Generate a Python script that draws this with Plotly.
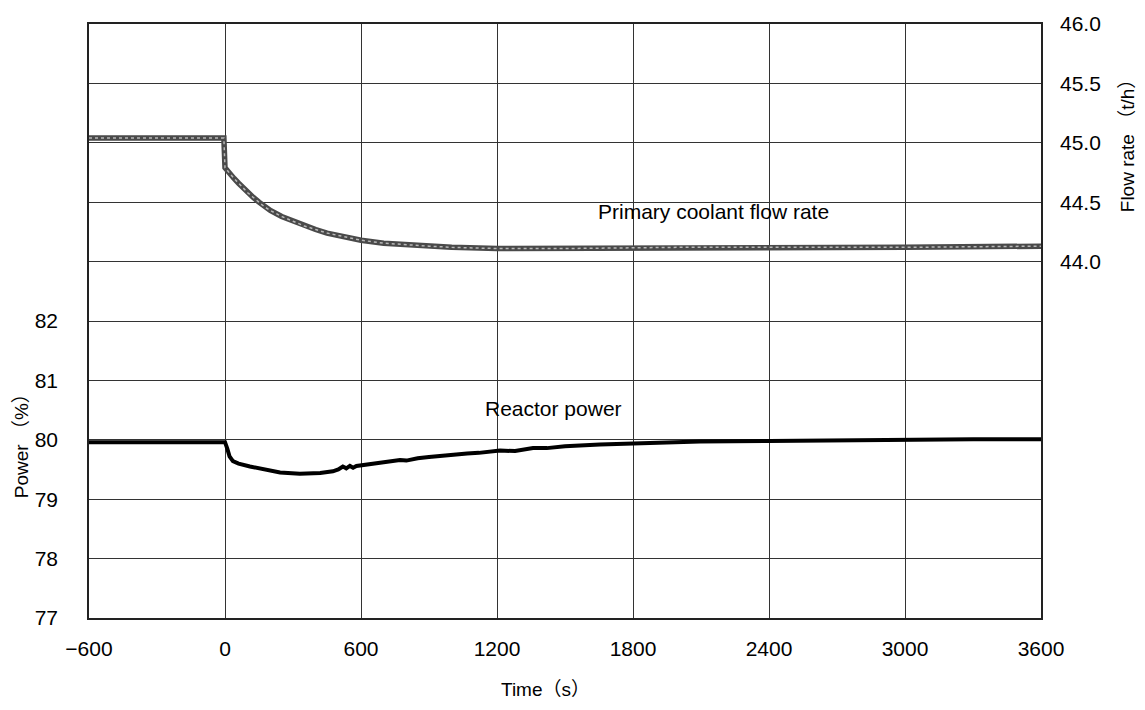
import plotly.graph_objects as go

# ---- data ----
flow_t = [-600, -5, 0, 20, 40, 60, 80, 100, 125, 150, 175, 200, 250, 300, 350,
          400, 450, 500, 550, 600, 700, 800, 900, 1000, 1200, 1500, 2000, 2500,
          3000, 3600]
flow_v = [45.04, 45.04, 44.79, 44.74, 44.70, 44.66, 44.62, 44.58, 44.54, 44.50,
          44.46, 44.43, 44.38, 44.34, 44.30, 44.27, 44.24, 44.22, 44.20, 44.18,
          44.155, 44.14, 44.13, 44.12, 44.11, 44.11, 44.12, 44.12, 44.12, 44.13]

power_t = [-600, -10, 0, 10, 20, 35, 60, 110, 170, 243, 330, 420, 476, 500, 520,
           535, 551, 565, 580, 600, 650, 700, 740, 772, 800, 850, 900, 950, 1000,
           1068, 1120, 1213, 1280, 1359, 1420, 1500, 1654, 1800, 2096, 2400, 2700,
           2978, 3300, 3600]
power_v = [79.96, 79.96, 79.96, 79.85, 79.72, 79.64, 79.60, 79.55, 79.50, 79.45,
           79.43, 79.44, 79.47, 79.50, 79.55, 79.52, 79.56, 79.53, 79.56, 79.57,
           79.59, 79.61, 79.63, 79.66, 79.65, 79.69, 79.71, 79.73, 79.74,
           79.77, 79.78, 79.82, 79.81, 79.86, 79.86, 79.89, 79.92, 79.94, 79.97,
           79.98, 79.99, 80.01, 80.01, 80.01]

x_ticks = [-600, 0, 600, 1200, 1800, 2400, 3000, 3600]
x_labels = ["−600", "0", "600", "1200", "1800", "2400", "3000", "3600"]
power_grid = [77, 78, 79, 80, 81, 82, 83, 84, 85, 86, 87]
power_labels = ["77", "78", "79", "80", "81", "82", "", "", "", "", ""]
flow_ticks = [44.0, 44.5, 45.0, 45.5, 46.0]
flow_labels = ["44.0", "44.5", "45.0", "45.5", "46.0"]

FONT = "Liberation Sans, Noto Sans CJK JP, Arial, sans-serif"

fig = go.Figure()

# primary coolant flow (hatched-looking thick grey line)
fig.add_trace(go.Scatter(x=flow_t, y=flow_v, yaxis="y2", mode="lines",
                         line=dict(color="#4a4a4a", width=5.5, shape="linear"),
                         showlegend=False, hoverinfo="skip"))
fig.add_trace(go.Scatter(x=flow_t, y=flow_v, yaxis="y2", mode="lines",
                         line=dict(color="#b8b8b8", width=1.5, dash="dot"),
                         showlegend=False, hoverinfo="skip"))

# reactor power
fig.add_trace(go.Scatter(x=power_t, y=power_v, mode="lines",
                         line=dict(color="#000000", width=4), showlegend=False))

pl, pr, pt, pb = 89, 1145 - 104, 20, 710 - 92


def px2paper(px, py):
    return (px - pl) / (pr - pl), (pb - py) / (pb - pt)


ann = []
ann.append(dict(text="Primary coolant flow rate", x=2156, y=44.42, xref="x", yref="y2",
                showarrow=False, font=dict(size=21)))
ann.append(dict(text="Reactor power", x=1449, y=80.53, xref="x", yref="y",
                showarrow=False, font=dict(size=21)))
for txt, px, py, ang in [("Power （%）", 21, 440, -90),
                         ("Flow rate （t/h）", 1127, 138, -90),
                         ("Time（s）", 545, 690, 0)]:
    x, y = px2paper(px, py)
    ann.append(dict(text=txt, x=x, y=y, xref="paper", yref="paper",
                    xanchor="center", yanchor="middle",
                    showarrow=False, textangle=ang, font=dict(size=19)))

fig.update_layout(
    width=1145, height=710,
    margin=dict(l=pl, r=1145 - pr, t=pt, b=710 - pb),
    paper_bgcolor="white", plot_bgcolor="white",
    font=dict(family=FONT, size=21, color="#000000"),
    xaxis=dict(range=[-600, 3600], tickvals=x_ticks, ticktext=x_labels,
               showgrid=True, gridcolor="#333333", gridwidth=1,
               showline=True, linecolor="#222222", linewidth=1.5, mirror=True,
               zeroline=False, ticks="", ticklabelstandoff=11),
    yaxis=dict(range=[77, 87], tickvals=power_grid, ticktext=power_labels,
               showgrid=True, gridcolor="#333333", gridwidth=1,
               showline=True, linecolor="#222222", linewidth=1.5, mirror=True,
               zeroline=False, ticks="", ticklabelstandoff=25),
    yaxis2=dict(range=[41, 46], tickvals=flow_ticks, ticktext=flow_labels,
                overlaying="y", side="right", showgrid=False, zeroline=False,
                showline=False, ticks="", ticklabelstandoff=18),
    annotations=ann,
)

fig.write_html("out.html")
